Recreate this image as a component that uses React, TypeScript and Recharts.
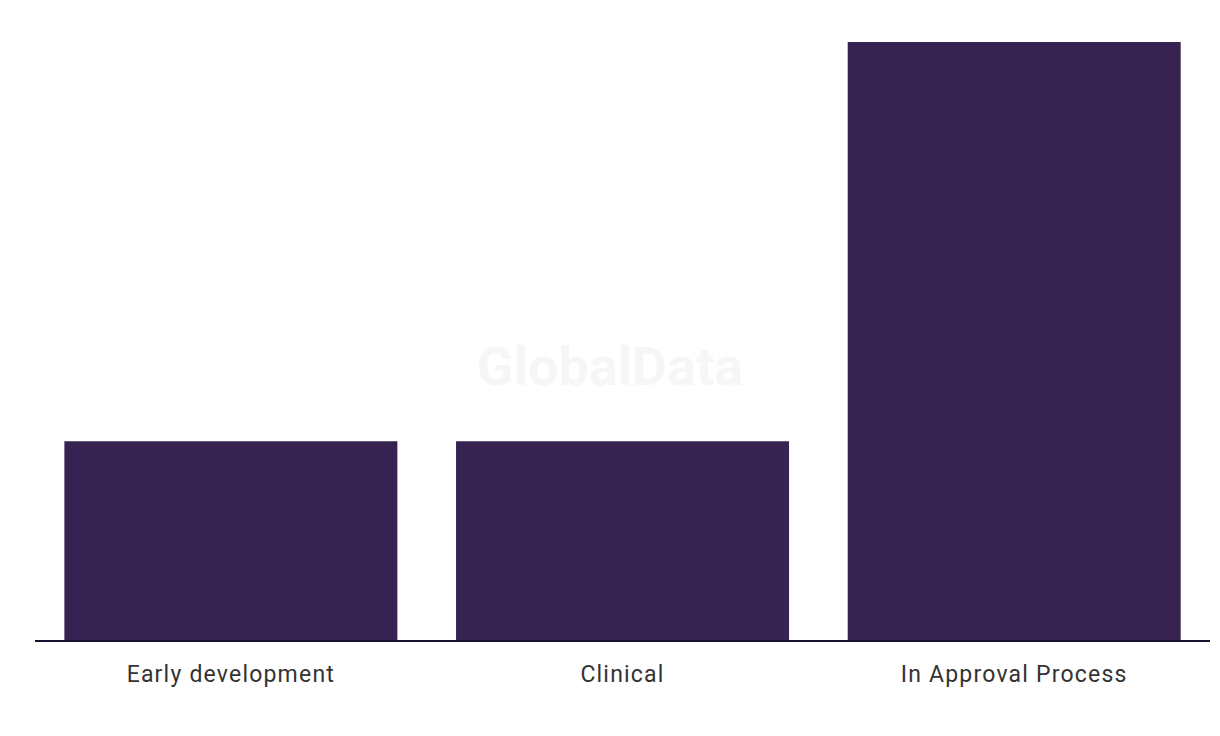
import { BarChart, Bar, XAxis, YAxis } from "recharts";

const stages = ["Early development", "Clinical", "In Approval Process"];
const counts = [1, 1, 3];

const data = stages.map((stage, i) => ({ stage, count: counts[i] }));

const App = () => {
  return (
    <div style={{ position: "relative", width: 1220, height: 736, background: "#fff" }}>
      <style>{"body{margin:0}"}</style>
      <div
        style={{
          position: "absolute",
          left: 0,
          width: 1220,
          top: 332,
          textAlign: "center",
          fontFamily: "Roboto, sans-serif",
          fontWeight: 700,
          fontSize: 54,
          lineHeight: "70px",
          color: "#f6f6f6",
          pointerEvents: "none",
        }}
      >
        GlobalData
      </div>
      <BarChart
        width={1220}
        height={736}
        data={data}
        margin={{ top: 42, right: 10, left: 35, bottom: 35 }}
        barCategoryGap="7.5%"
        style={{ position: "absolute", left: 0, top: 0 }}
      >
        <XAxis
          dataKey="stage"
          height={60}
          tickLine={false}
          axisLine={{ stroke: "#161430", strokeWidth: 2 }}
          tick={{
            fill: "#333333",
            fontSize: 23,
            fontFamily: "Roboto, sans-serif",
            letterSpacing: 1.2,
          }}
          tickMargin={19}
        />
        <YAxis hide domain={[0, 3]} />
        <Bar dataKey="count" fill="#362352" isAnimationActive={false} />
      </BarChart>
    </div>
  );
};

export default App;
